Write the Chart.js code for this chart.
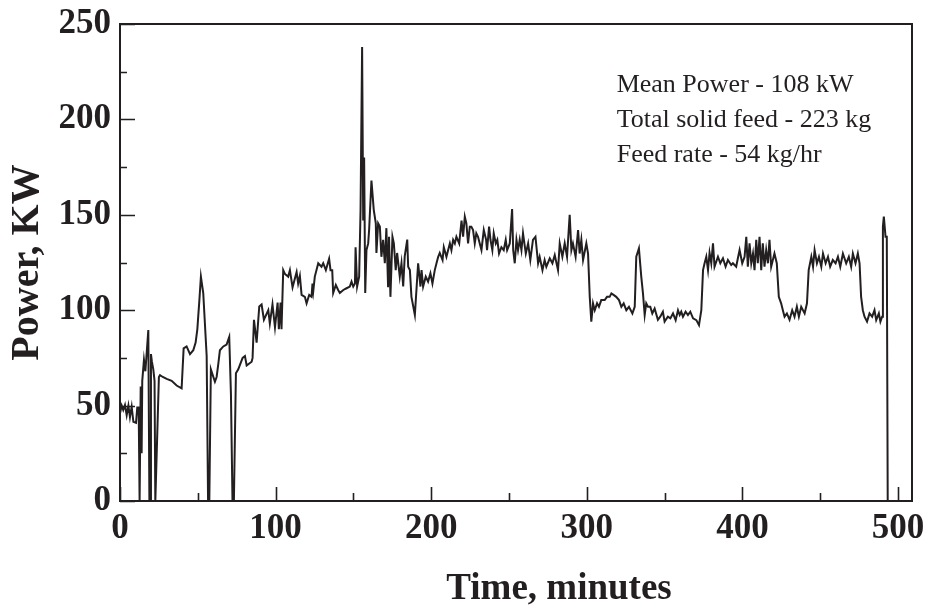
<!DOCTYPE html>
<html><head><meta charset="utf-8">
<script src="https://cdn.jsdelivr.net/npm/chart.js@4.4.0/dist/chart.umd.min.js"></script>
<style>html,body{margin:0;padding:0;background:#fff;}#wrap{width:928px;height:609px;}</style>
</head><body><div id="wrap"><canvas id="c" width="928" height="609"></canvas></div>
<script>
const timeMin = [0,1.1,2.1,3.2,4.3,5.4,6.4,7.5,8.6,10.3,11.1,12.0,12.6,13.3,13.9,14.3,15.4,16.3,17.2,18.2,18.9,19.5,19.9,20.5,21.4,22.2,22.7,23.1,25.0,25.7,27.5,30,33.2,36.4,39.6,40.9,42.8,45,47.1,48.6,49.7,50.3,51,52,53.5,55.7,56.6,57.4,58.4,61,62.1,63.2,64.2,66.4,68.5,70.2,71.3,72.3,73.2,74.5,76,78.8,80.3,81.4,84.6,85.2,86.1,87.8,89.5,91,92.5,95.3,96.3,98,99.6,101.3,102.1,103.2,103.8,104.9,106,108.1,109.2,110.9,113.5,114.5,115.6,116.7,118.8,119.9,121.6,123.1,123.7,124.2,125.2,127.4,129.5,130.6,132.3,134.4,135.3,136.4,137,138.7,140.2,141.3,143.5,145.6,147.7,148.8,149.9,151,151.4,152.4,153.7,154.6,155.6,156.3,156.9,157.6,158.4,159.5,160.1,161.6,163.1,164.4,164.8,165.9,167,168,169.1,170.2,171.2,172.3,172.9,173.8,175.1,176,177.2,178.1,179.8,180.9,182,183,184.6,185.2,186.3,187.3,189.5,191.6,193.1,193.8,194.8,196.5,198,199.5,200.8,202.3,203.4,204.5,205.5,207.3,208.1,209.8,210.9,212,213,214.1,215.2,216.2,218,219.5,220.5,221.6,222.6,223.7,224.8,225.8,226.9,228,229,230.1,231.2,232.3,233.8,235.3,235.9,237.2,238.1,239.3,240.2,241.5,242.5,243.6,245.1,246.6,247.9,248.8,250.5,252,252.7,253.7,254.8,255.8,256.9,258,259,260.8,262.3,263.7,265.4,267,268.7,269.7,271.5,272.9,274,276.2,277.9,279.4,281.5,282.6,284.3,285.8,287.3,289,290.1,291.1,292.8,294.4,295.4,296.5,297.6,299.7,300.8,301.9,302.9,304,305.1,306.6,307.8,309.3,311.5,313,314.7,315.8,317.2,318.9,320.7,322.2,323.7,325.4,327.1,329.3,330.8,331.8,333.5,335,336.1,337.2,338.2,339.3,340.8,342.1,343.6,345.7,347.2,348.9,350,352.1,353.7,355.4,357.1,358.6,359.7,360.7,361.8,363.5,365,366.5,368.3,370.4,372.1,373.6,374.7,375.7,376.8,377.9,378.9,380,381.1,382.1,384.3,385.8,387.5,389.2,390.7,392.8,393.9,396,397.1,398.2,399.9,401.4,402.5,403.5,404.6,405.7,406.8,407.8,408.9,409.9,411,412.1,413.1,414.2,415.3,416.4,417.4,418.5,420.6,422.1,423.4,424.9,426,427.1,428.6,430.3,432,433.5,435,436.3,437.8,440,441.5,442.6,444.3,445.4,446.4,447.9,449.2,450.7,451.8,453.5,455,456.4,458.1,459.9,461.4,462.9,464.6,466.7,468.4,469.9,471,472.7,474.2,475.3,476.3,477.4,478.5,480.1,481.7,483.4,484.9,486,487.7,488.7,489.8,490.3,490.9,492,492.8,493.4,494.1];
const powerKW = [46,50,47.7,50.3,45,50,44,49.4,41.5,41,49,49,0,60,25,63,74,68,78,89.6,0,0,77,73,69,63,0,0,65,66,65,64,63,60.5,59,80,81,77,79,83,90,97,105,117.6,109,76,0,0,69,62.5,65,72,79,81,82,86,56,0,0,67,69,75,76,71,73,75,95,83,102,103,95,100,93,103,91,104,90,104,90,121,119,117.6,121,112,120,114,118,108,107,103.6,108,107,114,110,117.6,124.6,122.8,124.6,121,127,121,121,109,113.2,110.6,109,110.6,111.5,112.4,115,112.4,114,133,112.4,117.6,152.5,238,147,180,109,131.5,135,142,168,152.5,145.5,130,145.5,143.8,128,136.9,124.6,143,112,138.5,107,138.5,135,121,130,117.6,124.6,112.4,128.4,137,122.8,121,107,97.5,124.6,112.4,121,112.4,117.6,115,119.3,114,121,124.6,128,130,126.3,133,128,131.5,135,131.5,136.9,135,138.5,135,147,138.5,149,145.5,135,143.8,143.8,142,135,140.3,138.5,135,131.5,142,136.9,131.5,143.8,136.9,131.5,140.3,135,136.9,129.7,133,131.5,136.9,131.5,135,153,131.5,124.6,136.9,131.5,137,131.5,140.3,129.7,135,126.3,136.9,138.5,124.6,128,121,126.3,122.8,127.2,124.6,128.9,121,135,128,135,128,150,131.5,135,128,142,129.7,136.9,126.3,135,129.7,107,94,103.6,100,103.6,101.8,105.3,105.3,107,107,108.8,108,107,105.3,101.8,103.6,100,101.8,98.3,101.8,128,132.4,117.6,108.8,97.5,103.6,101.8,101.8,98.3,100.9,95,96.6,99.2,94,96.6,95.7,98.3,94.8,100,97.5,99.2,96.6,99.2,97.5,99.2,95.7,94.8,92.2,100,121,124.6,128,121,130,124.6,135,122.8,128,124.6,127.2,122.8,126.3,123.7,124.6,122.8,127.2,131.5,124.6,128,138.5,122.8,135,124.6,129.7,121,136.9,124.6,138.5,121,135,122.8,131.5,124.6,136.9,122.8,129.7,124.6,107,103.6,100,96.6,98.3,95,100,96.6,101.8,96.6,101.8,98.3,103.6,121,128,122.8,131.5,124.6,128,122.8,129.7,124.6,128,122.8,126.3,124.6,128,122.8,129.7,124.6,128,122.8,129.7,124.6,129.7,124.6,107,100,96.6,94,98.3,96.6,100,94.8,98.3,94,96.6,143.8,149,138.5,138.5,0,0];
const xTickValues = [0,100,200,300,400,500];
const xMinorTicks = [50,150,250,350,450];
const yTickValues = [0,50,100,150,200,250];
const yMinorTicks = [25,75,125,175,225];
const notes = ['Mean Power - 108 kW','Total solid feed - 223 kg','Feed rate - 54 kg/hr'];
const noteX = 319.2;
const noteY = [214.2,196,177.7];
const xTitle = 'Time, minutes';
const yTitle = 'Power, KW';

const ink = '#231f20';
const serif = '"Liberation Serif","Times New Roman",serif';

const frameTicks = {
  id:'frameTicks',
  afterDatasetsDraw(chart){
    const {ctx, chartArea:a, scales:{x,y}} = chart;
    ctx.save();
    ctx.strokeStyle = ink;
    ctx.lineWidth = 1.6;
    ctx.beginPath();
    xTickValues.forEach(v=>{const p=Math.round(x.getPixelForValue(v))+0.5; ctx.moveTo(p,a.bottom); ctx.lineTo(p,a.bottom-14);});
    xMinorTicks.forEach(v=>{const p=Math.round(x.getPixelForValue(v))+0.5; ctx.moveTo(p,a.bottom); ctx.lineTo(p,a.bottom-8);});
    yTickValues.forEach(v=>{const p=Math.round(y.getPixelForValue(v))+0.5; ctx.moveTo(a.left,p); ctx.lineTo(a.left+15,p);});
    yMinorTicks.forEach(v=>{const p=Math.round(y.getPixelForValue(v))+0.5; ctx.moveTo(a.left,p); ctx.lineTo(a.left+7,p);});
    ctx.stroke();
    ctx.lineWidth = 2;
    ctx.strokeRect(a.left, a.top, a.right-a.left, a.bottom-a.top);
    ctx.fillStyle = ink;
    ctx.font = '26px ' + serif;
    ctx.textBaseline = 'alphabetic';
    ctx.textAlign = 'left';
    notes.forEach((t,i)=>ctx.fillText(t, x.getPixelForValue(noteX), y.getPixelForValue(noteY[i])));
    ctx.font = 'bold 37px ' + serif;
    ctx.textAlign = 'center';
    ctx.fillText(xTitle, (a.left + a.right) / 2 + 43, a.bottom + 98);
    ctx.restore();
  }
};

new Chart(document.getElementById('c'), {
  type:'line',
  data:{datasets:[{
    data: timeMin.map((t,i)=>({x:t,y:powerKW[i]})),
    borderColor: ink, borderWidth: 2, pointRadius: 0, tension: 0, fill:false
  }]},
  options:{
    responsive:false, animation:false, devicePixelRatio:1,
    layout:{padding:{left:0,top:24,right:16,bottom:0}},
    plugins:{legend:{display:false}, tooltip:{enabled:false}},
    scales:{
      x:{type:'linear', min:0, max:509,
        afterBuildTicks:s=>{s.ticks = xTickValues.map(v=>({value:v}));},
        afterFit:s=>{s.height = 108; s.paddingLeft = 0; s.paddingRight = 0;},
        grid:{display:false, drawTicks:false}, border:{display:false},
        ticks:{color:ink, padding:7, maxRotation:0, autoSkip:false, font:{family:serif, size:35, weight:'bold'}},
        title:{display:false}
      },
      y:{type:'linear', min:0, max:250,
        afterBuildTicks:s=>{s.ticks = yTickValues.map(v=>({value:v}));},
        afterFit:s=>{s.width = 120; s.paddingTop = 0; s.paddingBottom = 0;},
        grid:{display:false, drawTicks:false}, border:{display:false},
        ticks:{color:ink, padding:9, font:{family:serif, size:35, weight:'bold'}},
        title:{display:true, text:yTitle, color:ink, padding:{top:4,bottom:0}, font:{family:serif, size:40, weight:'bold', lineHeight:1.2}}
      }
    }
  },
  plugins:[frameTicks]
});
</script></body></html>
